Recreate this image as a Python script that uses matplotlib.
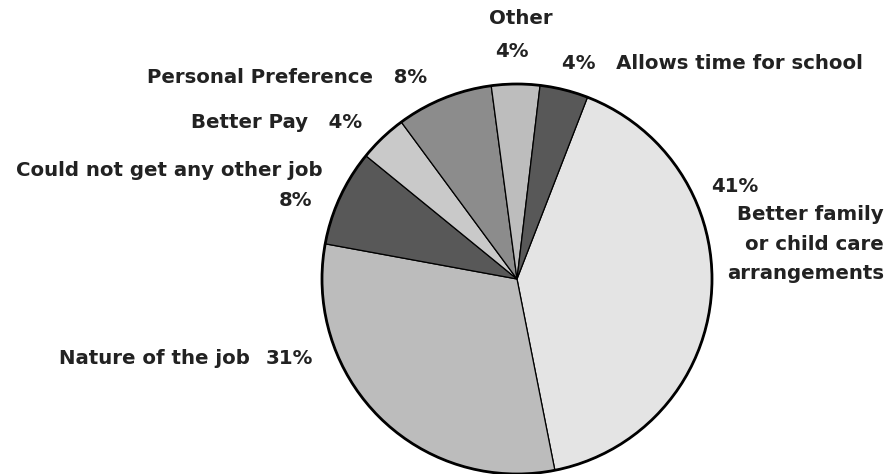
import matplotlib.pyplot as plt

# slices clockwise, starting from the big one on the right
reasons = ["Better family or child care arrangements", "Nature of the job",
           "Could not get any other job", "Better Pay", "Personal Preference",
           "Other", "Allows time for school"]
shares = [41, 31, 8, 4, 8, 4, 4]
greys = ["#e4e4e4", "#bcbcbc", "#585858", "#c9c9c9", "#8c8c8c", "#bdbdbd", "#585858"]

W, H = 896, 474

fig = plt.figure(figsize=(W / 100, H / 100), dpi=100)
ax = fig.add_axes([0, 0, 1, 1])

cx, cy, r = 517, H - 279, 195
wedges, _ = ax.pie(shares, colors=greys, startangle=68.8, counterclock=False,
                   center=(cx, cy), radius=r, frame=True,
                   wedgeprops=dict(edgecolor="black", linewidth=0.9))
ax.set_xlim(0, W)
ax.set_ylim(0, H)
ax.axis("off")
ring = plt.Circle((cx, cy), r, fill=False, edgecolor="black", linewidth=2)
ax.add_patch(ring)

font = dict(fontsize=14.2, fontweight="bold", color="#222222", family="DejaVu Sans")

def put(x, y, s, ha="left", **kw):
    ax.text(x, H - y, s, ha=ha, va="center", **font, **kw)

pct = ["%d%%" % v for v in shares]

put(521, 18, reasons[5], ha="center")
put(512, 51, pct[5], ha="center")
put(562, 63, pct[6] + "   " + reasons[6])
put(427, 77, reasons[4] + "   " + pct[4], ha="right")
put(362, 122, reasons[3] + "   " + pct[3], ha="right")
put(323, 170, reasons[2], ha="right")
put(312, 200, pct[2], ha="right")
put(711, 186, pct[0])
put(884, 244, "Better family\nor child care\narrangements", ha="right", linespacing=1.68)
put(313, 358, pct[1], ha="right")
put(250, 358, reasons[1], ha="right")

fig.savefig("out.png", dpi=100)
